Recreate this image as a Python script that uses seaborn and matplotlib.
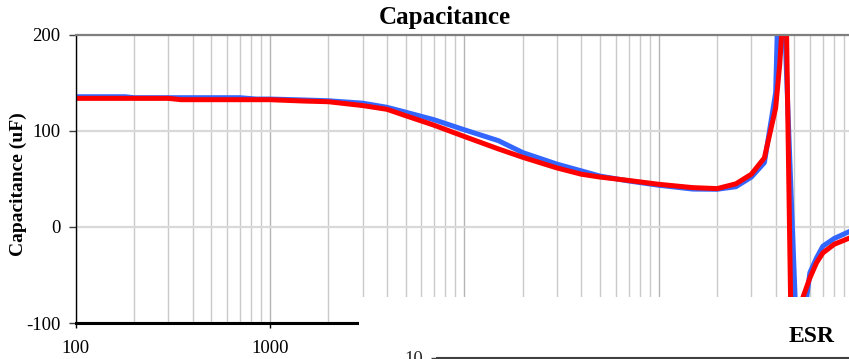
import numpy as np
import pandas as pd
import matplotlib
matplotlib.use("Agg")
import matplotlib.pyplot as plt
from matplotlib.ticker import FixedLocator, LogLocator, NullFormatter, FuncFormatter
import seaborn as sns

# Measured capacitance of two parts versus frequency (Hz -> uF)
freq_hz = [100, 150, 180, 200, 300, 350, 400, 500, 700, 850, 1000, 1500, 2000,
           3000, 4000, 5000, 7000, 10000, 15000, 20000, 30000, 40000, 50000,
           70000, 100000, 150000, 200000, 250000, 300000, 350000, 400000,
           420000, 440000, 450000, 480000, 500000, 520000, 560000, 600000,
           650000, 700000, 800000, 1000000]

cap_blue = [135.7, 135.7, 135.7, 134.7, 134.7, 134.7, 134.7, 134.7, 134.7, 133.3,
            133.3, 132.3, 131.5, 129.0, 124.7, 119.6, 111.7, 101.3, 89.9, 77.5,
            65.5, 58.5, 53.0, 48.0, 43.5, 39.5, 39.3, 42.0, 52.0, 67.0, 140.0,
            300.0, 244.0, 186.0, 36.0, -57.0, -147.0, -95.0, -47.5, -32.0, -20.0,
            -12.0, -3.0]

cap_red = [134.0, 134.0, 134.0, 134.0, 134.0, 132.6, 132.6, 132.6, 132.6, 132.6,
           132.6, 131.2, 130.5, 126.5, 122.6, 115.9, 106.0, 94.3, 81.3, 72.6,
           61.5, 55.0, 52.0, 48.5, 44.5, 41.0, 40.0, 45.0, 55.0, 72.0, 124.0,
           170.0, 235.0, 268.0, -106.0, -95.0, -88.0, -70.0, -53.0, -37.0, -27.0,
           -18.0, -10.0]

series_names = ["Part A", "Part B"]
series_colors = ["#3366ff", "#ff0000"]

y_ticks = [-100, 0, 100, 200]
x_ticks = [100, 1000, 10000, 100000]

df = pd.DataFrame({
    "freq": freq_hz * 2,
    "cap": cap_blue + cap_red,
    "part": [series_names[0]] * len(freq_hz) + [series_names[1]] * len(freq_hz),
})

sns.set_theme(style="white")
plt.rcParams["font.family"] = ["Liberation Serif", "DejaVu Serif"]
plt.rcParams["axes.unicode_minus"] = False

W, H = 849, 359
fig = plt.figure(figsize=(W / 100, H / 100), dpi=100)
fig.patch.set_facecolor("white")


def fx(px):
    return px / W


def fy(py):
    return 1 - py / H


# Capacitance chart (plot area runs past the right edge of the canvas)
ax = fig.add_axes([fx(75.5), fy(323), fx(853) - fx(75.5), fy(35) - fy(323)])
sns.lineplot(data=df, x="freq", y="cap", hue="part", hue_order=series_names,
             palette=dict(zip(series_names, series_colors)), estimator=None,
             sort=False, linewidth=3.6, legend=False, ax=ax,
             solid_joinstyle="round", solid_capstyle="round")
ax.set_xscale("log")
ax.set_xlim(100, 1e6)
ax.set_ylim(-100, 200)
ax.set_yticks(y_ticks)
ax.xaxis.set_major_locator(FixedLocator(x_ticks))
ax.xaxis.set_major_formatter(FuncFormatter(lambda v, p: f"{int(round(v))}"))
ax.xaxis.set_minor_locator(LogLocator(base=10, subs=np.arange(2, 10), numticks=60))
ax.xaxis.set_minor_formatter(NullFormatter())
ax.set_xlabel("")
ax.set_ylabel("")

ax.set_axisbelow(True)
ax.grid(True, which="major", axis="x", color="#b4b4b4", lw=1.0)
ax.grid(True, which="minor", axis="x", color="#cacaca", lw=1.0)
ax.grid(True, which="major", axis="y", color="#d9d9d9", lw=1.6)

ax.spines["top"].set_color("#7f7f7f")
ax.spines["top"].set_linewidth(1.6)
ax.spines["right"].set_visible(False)
ax.spines["left"].set_color("black")
ax.spines["left"].set_linewidth(1.0)
ax.spines["bottom"].set_color("black")
ax.spines["bottom"].set_linewidth(2.2)

ax.tick_params(axis="y", which="major", left=True, length=5.4, width=1.0,
               color="#404040", pad=5.5, labelsize=13.5, labelcolor="black")
ax.tick_params(axis="x", which="major", bottom=True, length=3.6, width=1.0,
               color="black", pad=8.5, labelsize=13.5, labelcolor="black")
ax.tick_params(axis="x", which="minor", length=0)

fig.text(fx(18.5), fy(184), "Capacitance (uF)", rotation=90, ha="center",
         va="center", fontsize=14, fontweight="bold", color="black")
fig.text(fx(445), fy(24), "Capacitance", ha="center", va="baseline",
         fontsize=18, fontweight="bold", color="black")

# ESR chart placed below, its chart area covering the lower right corner
cover = fig.add_axes([fx(359), 0, 1 - fx(359), fy(297)])
cover.set_facecolor("white")
cover.set_xticks([])
cover.set_yticks([])
for s in cover.spines.values():
    s.set_visible(False)
cover.set_zorder(3)

esr = fig.add_axes([fx(437), fy(358) - 1.0, fx(853) - fx(437), 1.0])
esr.set_zorder(4)
esr.patch.set_alpha(0)
esr.set_xscale("log")
esr.set_xlim(100, 1e6)
esr.set_yscale("log")
esr.set_ylim(0.001, 10)
esr.set_yticks([10])
esr.yaxis.set_major_formatter(FuncFormatter(lambda v, p: f"{v:g}"))
esr.yaxis.set_minor_formatter(NullFormatter())
esr.tick_params(axis="y", which="minor", length=0)
esr.set_xticks([])
esr.tick_params(axis="y", which="major", left=True, length=4, width=1.0,
                color="#404040", pad=6, labelsize=13.5)
esr.spines["top"].set_color("#404040")
esr.spines["top"].set_linewidth(1.5)
esr.spines["right"].set_visible(False)
esr.spines["bottom"].set_visible(False)
esr.spines["left"].set_color("black")
fig.text(fx(812), fy(342.5), "ESR", ha="center", va="baseline",
         fontsize=17, fontweight="bold", color="black")

fig.savefig("out.png", dpi=100, facecolor="white")
